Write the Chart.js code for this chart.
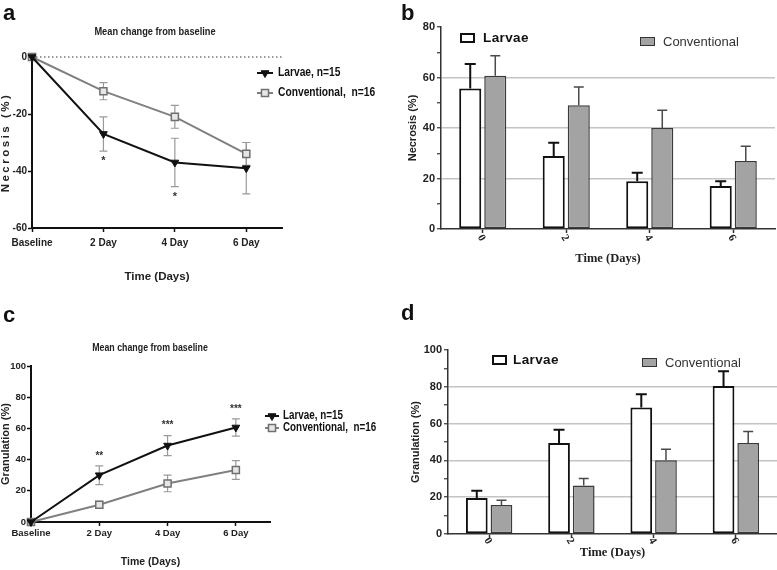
<!DOCTYPE html>
<html><head><meta charset="utf-8">
<script src="https://cdn.jsdelivr.net/npm/chart.js@4.4.1/dist/chart.umd.min.js"></script>
<style>
body{margin:0;width:777px;height:570px;background:#fff;position:relative;overflow:hidden;font-family:"Liberation Sans",Arial,sans-serif}
canvas{position:absolute}
.lt{position:absolute;font-weight:bold;font-size:22px;color:#111;line-height:1}
.ttl{position:absolute;font-family:"Liberation Sans",Arial,sans-serif;font-weight:bold;color:#222;white-space:nowrap;transform:translate(-50%,-50%) scaleX(0.84);line-height:1}
.lg{position:absolute;white-space:nowrap;line-height:1;transform:translateY(-50%)}
.box{position:absolute;box-sizing:border-box}
</style></head><body>
<canvas id="ca" width="390" height="290" style="left:0;top:0"></canvas>
<canvas id="cb" width="387" height="290" style="left:390px;top:0"></canvas>
<canvas id="cc" width="390" height="280" style="left:0;top:290px"></canvas>
<canvas id="cd" width="387" height="280" style="left:390px;top:290px"></canvas>

<div class="lt" style="left:3px;top:2px">a</div>
<div class="lt" style="left:401px;top:2px">b</div>
<div class="lt" style="left:3px;top:304px">c</div>
<div class="lt" style="left:401px;top:302px">d</div>

<div class="ttl" style="left:155px;top:31px;font-size:11px">Mean change from baseline</div>
<div class="ttl" style="left:150px;top:347px;font-size:10.5px">Mean change from baseline</div>

<div class="box" style="left:460px;top:33px;width:15px;height:10px;border:2px solid #111;background:#fff"></div>
<div class="lg" style="left:483px;top:38px;font-size:13.5px;font-weight:bold;color:#111;letter-spacing:0.4px" id="lgb1"></div>
<div class="box" style="left:640px;top:37px;width:15px;height:9px;border:1.5px solid #333;background:#a3a3a3"></div>
<div class="lg" style="left:663px;top:41px;font-size:13px;color:#333" id="lgb2"></div>

<div class="box" style="left:492px;top:355px;width:15px;height:10px;border:2px solid #111;background:#fff"></div>
<div class="lg" style="left:513px;top:360px;font-size:13.5px;font-weight:bold;color:#111;letter-spacing:0.4px" id="lgd1"></div>
<div class="box" style="left:642px;top:358px;width:15px;height:9px;border:1.5px solid #333;background:#a3a3a3"></div>
<div class="lg" style="left:665px;top:362px;font-size:13px;color:#333" id="lgd2"></div>

<script>
// ---------- data ----------
const lineDays = [0, 2, 4, 6];
const lineTickLabels = ['Baseline', '2 Day', '4 Day', '6 Day'];
const barCategories = ['0', '2', '4', '6'];
const seriesNames = ['Larvae', 'Conventional'];
const lineLegendNames = ['Larvae, n=15', 'Conventional,  n=16'];

// a: necrosis, mean change from baseline
const necChangeLarvae = [0, -27, -37, -39];
const necChangeLarvaeErr = [0, 6, 8.5, 9];
const necChangeConv = [0, -12, -21, -34];
const necChangeConvErr = [0, 3, 4, 4];
const necChangeSig = ['', '*', '*', ''];

// b: necrosis (%)
const necLarvae = [55.6, 28.9, 18.9, 17];
const necLarvaeErr = [9.7, 5.3, 3.4, 1.9];
const necConv = [60.7, 49, 40, 26.9];
const necConvErr = [7.9, 7.2, 7, 5.9];

// c: granulation, mean change from baseline
const granChangeLarvae = [0, 30, 49, 60.6];
const granChangeLarvaeErr = [0, 6, 6.4, 5.5];
const granChangeConv = [0, 11.1, 24.7, 33.3];
const granChangeConvErr = [0, 2.1, 5.3, 6];
const granChangeSig = ['', '**', '***', '***'];

// d: granulation (%)
const granLarvae = [19.5, 49.5, 68.7, 80.5];
const granLarvaeErr = [4, 7.1, 7.3, 7.9];
const granConv = [15.7, 26.4, 40.1, 49.5];
const granConvErr = [2.6, 3.8, 6, 6.2];

// ---------- helpers ----------
const SANS = '"Liberation Sans",Arial,sans-serif';
const SERIF = '"Liberation Serif","Times New Roman",serif';
const xy = (xs, ys) => xs.map((x, i) => ({x, y: ys[i]}));
const valOf = d => (d !== null && typeof d === 'object') ? d.y : d;

document.getElementById('lgb1').textContent = seriesNames[0];
document.getElementById('lgb2').textContent = seriesNames[1];
document.getElementById('lgd1').textContent = seriesNames[0];
document.getElementById('lgd2').textContent = seriesNames[1];

function drawErrors(chart) {
  const ctx = chart.ctx, ys = chart.scales.y;
  chart.data.datasets.forEach((ds, di) => {
    if (!ds.errors) return;
    const meta = chart.getDatasetMeta(di);
    meta.data.forEach((el, i) => {
      const e = ds.errors[i];
      if (!e) return;
      const v = valOf(ds.data[i]);
      const x = el.x, cap = ds.errorCap;
      const yHi = ys.getPixelForValue(v + e);
      const yLo = ds.errorUpOnly ? ys.getPixelForValue(v) : ys.getPixelForValue(v - e);
      ctx.save();
      ctx.strokeStyle = ds.errorColor; ctx.lineWidth = ds.errorWidth;
      ctx.beginPath();
      ctx.moveTo(x, yLo); ctx.lineTo(x, yHi);
      ctx.moveTo(x - cap, yHi); ctx.lineTo(x + cap, yHi);
      if (!ds.errorUpOnly) { ctx.moveTo(x - cap, yLo); ctx.lineTo(x + cap, yLo); }
      ctx.stroke();
      ctx.restore();
    });
  });
}
const errorBarsPlugin = {
  id: 'errorBars',
  beforeDatasetsDraw(chart, a, o) { if (o.layer === 'before') drawErrors(chart); },
  afterDatasetsDraw(chart, a, o) { if (o.layer !== 'before') drawErrors(chart); }
};
const sigPlugin = {
  id: 'sig',
  afterDatasetsDraw(chart, a, o) {
    if (!o.labels) return;
    const ctx = chart.ctx, ys = chart.scales.y;
    const ds = chart.data.datasets[o.datasetIndex];
    const meta = chart.getDatasetMeta(o.datasetIndex);
    ctx.save();
    ctx.font = o.font; ctx.fillStyle = o.color; ctx.textAlign = 'center'; ctx.textBaseline = 'middle';
    o.labels.forEach((t, i) => {
      if (!t) return;
      const v = valOf(ds.data[i]), e = ds.errors[i];
      const y = o.below ? ys.getPixelForValue(v - e) + o.offset : ys.getPixelForValue(v + e) - o.offset;
      ctx.fillText(t, meta.data[i].x, y);
    });
    ctx.restore();
  }
};
const refLinePlugin = {
  id: 'refLine',
  beforeDatasetsDraw(chart, a, o) {
    if (o.value === undefined) return;
    const ctx = chart.ctx, y = chart.scales.y.getPixelForValue(o.value), ca = chart.chartArea;
    ctx.save(); ctx.strokeStyle = o.color; ctx.lineWidth = 1; ctx.setLineDash(o.dash);
    ctx.beginPath(); ctx.moveTo(ca.left, y); ctx.lineTo(ca.right, y); ctx.stroke(); ctx.restore();
  }
};
const lineLegendPlugin = {
  id: 'lineLegend',
  afterDraw(chart, a, o) {
    if (!o.rows) return;
    const ctx = chart.ctx;
    chart.data.datasets.forEach((ds, i) => {
      const cy = o.rows[i], cx = o.x;
      ctx.save();
      ctx.strokeStyle = ds.borderColor; ctx.lineWidth = ds.borderWidth;
      ctx.beginPath(); ctx.moveTo(cx - o.half, cy); ctx.lineTo(cx + o.half, cy); ctx.stroke();
      ctx.fillStyle = ds.pointBackgroundColor; ctx.strokeStyle = ds.pointBorderColor; ctx.lineWidth = ds.pointBorderWidth;
      Chart.helpers.drawPoint(ctx, {pointStyle: ds.pointStyle, rotation: ds.pointRotation || 0, radius: ds.pointRadius, borderWidth: ds.pointBorderWidth}, cx, cy);
      ctx.translate(o.textX, cy);
      ctx.scale(o.squeeze, 1);
      ctx.font = o.font; ctx.fillStyle = o.color; ctx.textAlign = 'left'; ctx.textBaseline = 'middle';
      ctx.fillText(ds.label, 0, 0);
      ctx.restore();
    });
  }
};
const spacedTitlePlugin = {
  id: 'spacedTitle',
  afterLayout(chart, a, o) {
    if (!o.spacing) return;
    const s = chart.scales.y;
    if (s._spacedPatched) return;
    const orig = s.drawTitle.bind(s);
    s.drawTitle = function () {
      const c = this.ctx; c.save(); c.letterSpacing = o.spacing; orig(); c.restore();
    };
    s._spacedPatched = true;
  }
};
const allPlugins = [errorBarsPlugin, sigPlugin, refLinePlugin, lineLegendPlugin, spacedTitlePlugin];

function lineDatasets(larv, larvErr, conv, convErr) {
  return [
    {label: lineLegendNames[0], data: xy(lineDays, larv), errors: larvErr,
     borderColor: '#111', borderWidth: 2, pointStyle: 'triangle', pointRotation: 180, pointRadius: 4.5,
     pointBackgroundColor: '#111', pointBorderColor: '#111', pointBorderWidth: 1,
     errorColor: '#9a9a9a', errorWidth: 1.2, errorCap: 4, clip: false, order: 1},
    {label: lineLegendNames[1], data: xy(lineDays, conv), errors: convErr,
     borderColor: '#808080', borderWidth: 2, pointStyle: 'rect', pointRadius: 5,
     pointBackgroundColor: '#e6e6e6', pointBorderColor: '#707070', pointBorderWidth: 1.5,
     errorColor: '#9a9a9a', errorWidth: 1.2, errorCap: 4, clip: false, order: 2}
  ];
}
function barDatasets(larv, larvErr, conv, convErr) {
  return [
    {label: seriesNames[0], data: larv, errors: larvErr, errorUpOnly: true,
     backgroundColor: '#ffffff', borderColor: '#111', borderWidth: 2, borderSkipped: false,
     errorColor: '#111', errorWidth: 2, errorCap: 5.5,
     categoryPercentage: 0.6, barPercentage: 0.88},
    {label: seriesNames[1], data: conv, errors: convErr, errorUpOnly: true,
     backgroundColor: '#a3a3a3', borderColor: '#3a3a3a', borderWidth: 1.5, borderSkipped: false,
     errorColor: '#4a4a4a', errorWidth: 1.5, errorCap: 5,
     categoryPercentage: 0.6, barPercentage: 0.88}
  ];
}

function lineOptions(cfg) {
  return {
    responsive: false, animation: false, devicePixelRatio: 1,
    layout: {padding: cfg.padding, autoPadding: false},
    plugins: {
      legend: {display: false}, tooltip: {enabled: false},
      errorBars: {layer: 'before'},
      sig: cfg.sig,
      refLine: cfg.refLine || {},
      lineLegend: cfg.legend,
      spacedTitle: cfg.spaced || {}
    },
    scales: {
      x: {
        type: 'linear', min: 0, max: 7,
        afterBuildTicks: s => { s.ticks = lineDays.map(v => ({value: v})); },
        afterFit: s => { s.height = cfg.xHeight; },
        ticks: {callback: v => lineTickLabels[lineDays.indexOf(v)], color: '#222',
                font: {family: SANS, size: cfg.tickSize, weight: 'bold'}, padding: cfg.xTickPad,
                maxRotation: 0, autoSkip: false},
        grid: {drawOnChartArea: false, tickLength: 4, tickColor: '#111', tickWidth: 1.5},
        border: {color: '#111', width: 2},
        title: {display: true, text: 'Time (Days)', color: '#222',
                font: {family: SANS, size: cfg.xTitleSize, weight: 'bold', lineHeight: 1},
                padding: {top: cfg.xTitlePad, bottom: cfg.xTitlePad}}
      },
      y: {
        min: cfg.yMin, max: cfg.yMax,
        afterFit: s => { s.width = cfg.yWidth; },
        ticks: {stepSize: 20, color: '#222', font: {family: SANS, size: cfg.tickSize, weight: 'bold'}, padding: 1},
        grid: {drawOnChartArea: false, tickLength: 4, tickColor: '#111', tickWidth: 1.5},
        border: {color: '#111', width: 2},
        title: {display: true, text: cfg.yTitle, color: '#222',
                font: {family: SANS, size: cfg.yTitleSize, weight: 'bold', lineHeight: 1},
                padding: {top: cfg.yTitlePad, bottom: cfg.yTitlePad}}
      }
    }
  };
}

function barOptions(cfg) {
  return {
    responsive: false, animation: false, devicePixelRatio: 1,
    layout: {padding: cfg.padding, autoPadding: false},
    plugins: {legend: {display: false}, tooltip: {enabled: false}, errorBars: {layer: 'after'}},
    scales: {
      x: {
        afterFit: s => { s.height = cfg.xHeight; },
        ticks: {color: '#222', font: {family: SERIF, size: 11, weight: 'bold'}, minRotation: -60, maxRotation: -60, padding: cfg.xTickPad},
        grid: {drawOnChartArea: false, offset: false, tickLength: 4, tickColor: '#333', tickWidth: 1.5},
        border: {color: '#333', width: 1.5},
        title: {display: true, text: 'Time (Days)', color: '#222',
                font: {family: SERIF, size: 12.5, weight: 'bold', lineHeight: 1},
                padding: {top: cfg.xTitlePad, bottom: cfg.xTitlePad}}
      },
      y: {
        min: 0, max: cfg.yMax,
        afterFit: s => { s.width = cfg.yWidth; },
        ticks: {stepSize: 10, color: '#222', font: {family: SANS, size: 11, weight: 'bold'}, padding: 2,
                callback: v => (v % 20 === 0 ? String(v) : '')},
        grid: {color: c => (c.tick && c.tick.value % 20 === 0 && c.tick.value > 0 && c.tick.value < cfg.yMax) ? '#c4c4c4' : 'rgba(0,0,0,0)',
               lineWidth: 1.5, tickLength: 4, tickColor: '#333', tickWidth: 1.2},
        border: {color: '#333', width: 1.5},
        title: {display: true, text: cfg.yTitle, color: '#222',
                font: {family: SANS, size: 11, weight: 'bold', lineHeight: 1},
                padding: {top: cfg.yTitlePad, bottom: cfg.yTitlePad}}
      }
    }
  };
}

// ---------- a ----------
new Chart(document.getElementById('ca'), {
  type: 'line',
  data: {datasets: lineDatasets(necChangeLarvae, necChangeLarvaeErr, necChangeConv, necChangeConvErr)},
  options: lineOptions({
    padding: {left: 0, top: 57, right: 108, bottom: 0}, xHeight: 62, yWidth: 32,
    yMin: -60, yMax: 0, tickSize: 10, xTickPad: 5, xTitleSize: 11.5, xTitlePad: 7,
    yTitle: 'Necrosis (%)', yTitleSize: 11.5, yTitlePad: 0,
    sig: {labels: necChangeSig, datasetIndex: 0, below: true, offset: 10, font: 'bold 11px ' + SANS, color: '#333'},
    refLine: {value: 0, color: '#333', dash: [1.5, 2.5]},
    legend: {rows: [73, 93], x: 265, half: 8, textX: 278, squeeze: 0.82, font: 'bold 12.5px ' + SANS, color: '#111'},
    spaced: {spacing: '2.5px'}
  }),
  plugins: allPlugins
});

// ---------- b ----------
new Chart(document.getElementById('cb'), {
  type: 'bar',
  data: {labels: barCategories, datasets: barDatasets(necLarvae, necLarvaeErr, necConv, necConvErr)},
  options: barOptions({
    padding: {left: 0, top: 27, right: 2, bottom: 0}, xHeight: 61, yWidth: 51, yMax: 80,
    xTickPad: 4, xTitlePad: 24.5, yTitle: 'Necrosis (%)', yTitlePad: 17.5
  }),
  plugins: allPlugins
});

// ---------- c ----------
new Chart(document.getElementById('cc'), {
  type: 'line',
  data: {datasets: lineDatasets(granChangeLarvae, granChangeLarvaeErr, granChangeConv, granChangeConvErr)},
  options: lineOptions({
    padding: {left: 0, top: 76, right: 120, bottom: 0}, xHeight: 48, yWidth: 31,
    yMin: 0, yMax: 100, tickSize: 9.5, xTickPad: 1.5, xTitleSize: 10.5, xTitlePad: 2.5,
    yTitle: 'Granulation (%)', yTitleSize: 11, yTitlePad: 0,
    sig: {labels: granChangeSig, datasetIndex: 0, below: false, offset: 10, font: 'bold 10px ' + SANS, color: '#333'},
    legend: {rows: [126, 138], x: 272, half: 7, textX: 283, squeeze: 0.82, font: 'bold 12px ' + SANS, color: '#111'}
  }),
  plugins: allPlugins
});

// ---------- d ----------
new Chart(document.getElementById('cd'), {
  type: 'bar',
  data: {labels: barCategories, datasets: barDatasets(granLarvae, granLarvaeErr, granConv, granConvErr)},
  options: barOptions({
    padding: {left: 0, top: 60, right: 0, bottom: 0}, xHeight: 36, yWidth: 58, yMax: 100,
    xTickPad: 2, xTitlePad: 10.5, yTitle: 'Granulation (%)', yTitlePad: 20.5
  }),
  plugins: allPlugins
});
</script>
</body></html>
